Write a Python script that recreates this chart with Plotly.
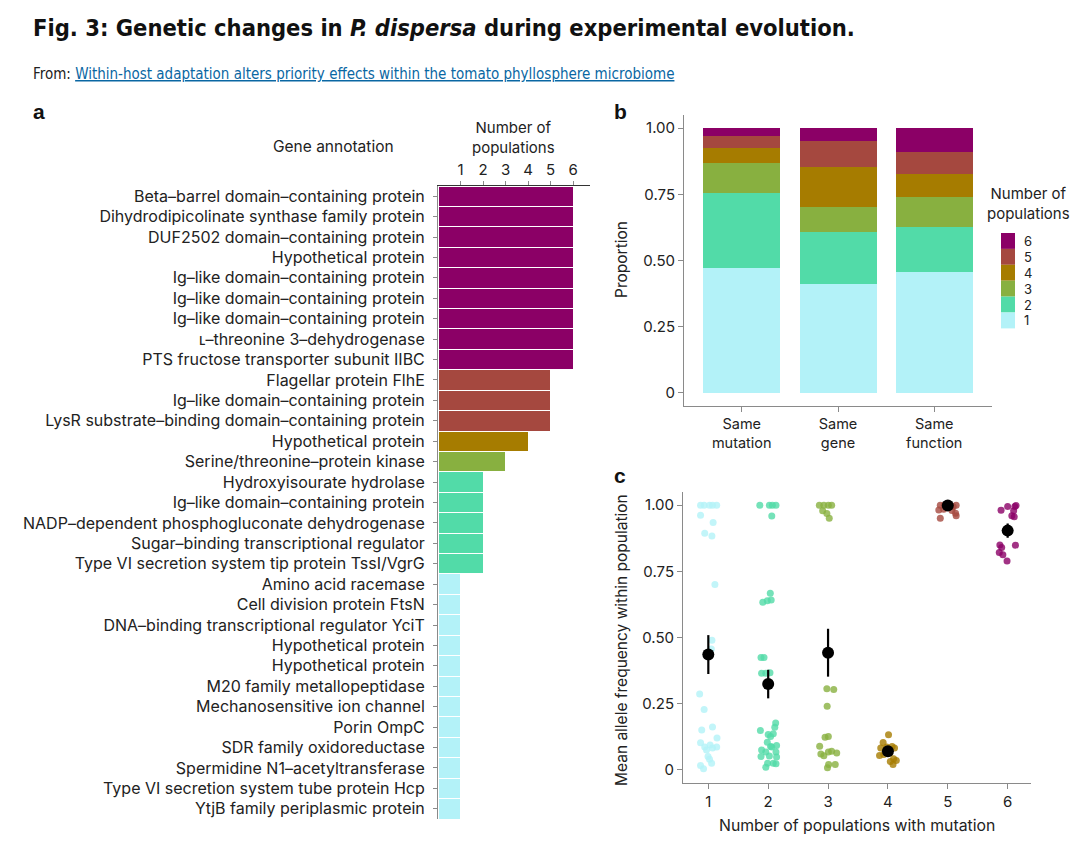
import plotly.graph_objects as go

W, H = 1080, 847
def px(x): return x / W
def py(y): return 1 - y / H

# ---------------- data ----------------
genes = [
    "Beta–barrel domain–containing protein",
    "Dihydrodipicolinate synthase family protein",
    "DUF2502 domain–containing protein",
    "Hypothetical protein",
    "Ig–like domain–containing protein",
    "Ig–like domain–containing protein",
    "Ig–like domain–containing protein",
    "ʟ–threonine 3–dehydrogenase",
    "PTS fructose transporter subunit IIBC",
    "Flagellar protein FlhE",
    "Ig–like domain–containing protein",
    "LysR substrate–binding domain–containing protein",
    "Hypothetical protein",
    "Serine/threonine–protein kinase",
    "Hydroxyisourate hydrolase",
    "Ig–like domain–containing protein",
    "NADP–dependent phosphogluconate dehydrogenase",
    "Sugar–binding transcriptional regulator",
    "Type VI secretion system tip protein TssI/VgrG",
    "Amino acid racemase",
    "Cell division protein FtsN",
    "DNA–binding transcriptional regulator YciT",
    "Hypothetical protein",
    "Hypothetical protein",
    "M20 family metallopeptidase",
    "Mechanosensitive ion channel",
    "Porin OmpC",
    "SDR family oxidoreductase",
    "Spermidine N1–acetyltransferase",
    "Type VI secretion system tube protein Hcp",
    "YtjB family periplasmic protein",
]
n_pops = [6]*9 + [5]*3 + [4] + [3] + [2]*5 + [1]*12

categories_b = ["Same<br>mutation", "Same<br>gene", "Same<br>function"]
prop = {
    1: [0.470, 0.413, 0.455],
    2: [0.286, 0.195, 0.171],
    3: [0.114, 0.096, 0.115],
    4: [0.056, 0.148, 0.087],
    5: [0.043, 0.098, 0.084],
    6: [0.031, 0.050, 0.088],
}
legend_labels = ["6", "5", "4", "3", "2", "1"]

# panel c: allele frequencies per group, with horizontal jitter offsets
freq = {
    1: [1.0, 1.0, 1.0, 1.0, 1.0, 0.962, 0.935, 0.894, 0.884, 0.70, 0.49, 0.457,
        0.286, 0.228, 0.15, 0.162, 0.102, 0.12, 0.086, 0.086, 0.094, 0.082, 0.075,
        0.05, 0.04, 0.025, 0.016, 0.004],
    2: [1.0, 1.0, 1.0, 1.0, 0.959, 0.667, 0.633, 0.639, 0.642, 0.424, 0.424, 0.365,
        0.365, 0.367, 0.148, 0.177, 0.161, 0.136, 0.133, 0.126, 0.104, 0.075, 0.092,
        0.086, 0.067, 0.067, 0.052, 0.05, 0.048, 0.025, 0.025, 0.023, 0.01, 0.088],
    3: [1.0, 1.0, 1.0, 1.0, 0.979, 0.969, 0.951, 0.306, 0.303, 0.24, 0.123, 0.126,
        0.089, 0.06, 0.053, 0.07, 0.063, 0.067, 0.02, 0.02, 0.008],
    4: [0.132, 0.103, 0.082, 0.086, 0.088, 0.082, 0.054, 0.058, 0.042, 0.031, 0.02,
        0.035, 0.063],
    5: [1.0, 1.0, 1.0, 1.0, 0.982, 0.985, 0.98, 0.97, 0.96, 0.951, 0.994],
    6: [0.981, 0.995, 0.995, 0.999, 0.979, 0.96, 0.956, 0.85, 0.84, 0.849, 0.821,
        0.813, 0.789],
}
jitter = {
    1: [-0.13, -0.07, 0.02, 0.07, 0.14, -0.13, 0.08, -0.06, 0.06, 0.11, 0.06, 0.05,
        -0.145, -0.07, -0.11, 0.07, -0.13, 0.145, 0.14, -0.06, 0.03, 0.07, -0.03,
        -0.005, 0.02, 0.055, -0.13, -0.08],
    2: [-0.14, 0.02, 0.07, 0.13, 0.06, 0.035, -0.09, -0.015, 0.05, -0.12, -0.07, -0.11,
        -0.04, 0.03, -0.13, 0.125, 0.11, 0.085, 0.0, 0.04, -0.015, -0.11, 0.14,
        0.06, 0.13, -0.04, 0.02, -0.12, 0.14, -0.01, 0.085, 0.13, -0.04, 0.04],
    3: [-0.145, -0.07, 0.005, 0.06, -0.09, -0.02, 0.02, -0.02, 0.095, -0.015, -0.05,
        0.005, -0.14, -0.12, -0.07, 0.06, 0.145, 0.005, 0.01, 0.12, -0.01],
    4: [0.01, -0.08, -0.12, -0.02, 0.07, 0.11, -0.14, -0.07, 0.095, 0.04, 0.085,
        0.14, 0.03],
    5: [-0.125, -0.06, 0.04, 0.14, -0.15, -0.07, 0.07, 0.13, 0.14, -0.125, 0.09],
    6: [-0.11, 0.0, 0.12, 0.14, 0.1, 0.07, 0.11, -0.13, -0.1, 0.13, -0.14, -0.08,
        -0.01],
}
mean_freq = {1: 0.436, 2: 0.324, 3: 0.442, 4: 0.070, 5: 0.999, 6: 0.904}
se_upper = {1: 0.509, 2: 0.378, 3: 0.533, 4: 0.078, 5: 1.0, 6: 0.931}
se_lower = {1: 0.362, 2: 0.270, 3: 0.352, 4: 0.062, 5: 0.998, 6: 0.877}

colors = {6: "#8B0066", 5: "#A5483F", 4: "#A67C00", 3: "#88B040", 2: "#52DBA8", 1: "#B3F2F8"}

FONT = "Inter, Roboto, Arial, sans-serif"
TXT = "#222222"
AX_DARK = "#333333"
AX = "#8a8a8a"

fig = go.Figure()

# ---------------- panel a ----------------
fig.add_trace(go.Bar(
    x=n_pops, y=list(range(len(genes))), orientation="h",
    marker=dict(color=[colors[n] for n in n_pops], line=dict(color="white", width=1)),
    width=1.0, xaxis="x", yaxis="y", showlegend=False, hoverinfo="x+text",
    hovertext=genes,
))

# ---------------- panel b ----------------
for k in range(1, 7):
    fig.add_trace(go.Bar(
        x=[0, 1, 2], y=prop[k], name=str(k), marker=dict(color=colors[k], line=dict(width=0)),
        width=0.8, xaxis="x2", yaxis="y2", showlegend=False,
    ))

# ---------------- panel c ----------------
for k in range(1, 7):
    fig.add_trace(go.Scatter(
        x=[k + j for j in jitter[k]], y=freq[k], mode="markers",
        marker=dict(color=colors[k], size=7, opacity=0.8),
        xaxis="x3", yaxis="y3", showlegend=False,
    ))
groups = list(range(1, 7))
fig.add_trace(go.Scatter(
    x=groups, y=[mean_freq[g] for g in groups], mode="markers",
    marker=dict(color="black", size=12),
    error_y=dict(type="data", symmetric=False,
                 array=[se_upper[g] - mean_freq[g] for g in groups],
                 arrayminus=[mean_freq[g] - se_lower[g] for g in groups],
                 thickness=2.2, width=0, color="black"),
    xaxis="x3", yaxis="y3", showlegend=False,
))

def axis(color=AX, size=15, **kw):
    d = dict(showline=True, linecolor=color, linewidth=1, ticks="outside", tickcolor=AX,
             ticklen=4, tickwidth=1, showgrid=False, zeroline=False,
             tickfont=dict(family=FONT, size=size, color=TXT))
    d.update(kw)
    return d

fig.update_layout(
    width=W, height=H, margin=dict(l=0, r=0, t=0, b=0),
    paper_bgcolor="white", plot_bgcolor="white",
    barmode="stack", font=dict(family=FONT, color=TXT), showlegend=False,
    xaxis=axis(AX_DARK, domain=[px(438), px(590)], range=[0, 6.75], side="top",
               tickvals=[1, 2, 3, 4, 5, 6], anchor="y"),
    yaxis=axis(size=16, domain=[py(819), py(186)], range=[30.5, -0.5],
               tickvals=list(range(len(genes))), ticktext=genes, anchor="x", ticklabelstandoff=5),
    xaxis2=axis(size=14.5, domain=[px(684), px(992)], range=[-0.6, 2.6], tickvals=[0, 1, 2],
                ticktext=categories_b, anchor="y2", ticklen=5),
    yaxis2=axis(domain=[py(406), py(115)], range=[-0.05, 1.05], tickvals=[0, 0.25, 0.5, 0.75, 1.0],
                ticktext=["0", "0.25", "0.50", "0.75", "1.00"], anchor="x2", ticklen=5),
    xaxis3=axis(domain=[px(683), px(1031)], range=[0.577, 6.39], tickvals=[1, 2, 3, 4, 5, 6],
                anchor="y3", ticklen=5),
    yaxis3=axis(domain=[py(783), py(492)], range=[-0.05, 1.05], tickvals=[0, 0.25, 0.5, 0.75, 1.0],
                ticktext=["0", "0.25", "0.50", "0.75", "1.00"], anchor="x3", ticklen=5),
)

# legend for panel b (squares + labels built from the colour map)
shapes = []
ann = []
leg_top, leg_h, leg_x0, leg_w = 233, 15.9, 1001, 14
for i, lab in enumerate(legend_labels):
    y0 = leg_top + i * leg_h
    shapes.append(dict(type="rect", xref="paper", yref="paper", x0=px(leg_x0), x1=px(leg_x0 + leg_w),
                       y0=py(y0), y1=py(y0 + leg_h), fillcolor=colors[int(lab)], line=dict(width=0)))
    ann.append(dict(text=lab, x=px(leg_x0 + leg_w + 7), y=py(y0 + leg_h / 2), xanchor="left",
                    yanchor="middle", font=dict(family=FONT, size=13, color=TXT)))
ann.append(dict(text="Number of<br>populations", x=px(1028), y=py(204), xanchor="center",
                yanchor="middle", font=dict(family=FONT, size=15, color=TXT)))

TITLEFONT = "DejaVu Sans Condensed, DejaVu Sans, sans-serif"
ann += [
    dict(text="<b>Fig. 3: Genetic changes in <i>P. dispersa</i> during experimental evolution.</b>",
         x=px(31), y=py(28), xanchor="left", yanchor="middle",
         font=dict(family=TITLEFONT, size=23.5, color="#111111")),
    dict(text="From: <span style='color:#0A67A3'><u>Within-host adaptation alters priority effects within the tomato phyllosphere microbiome</u></span>",
         x=px(31), y=py(74), xanchor="left", yanchor="middle",
         font=dict(family=TITLEFONT, size=15, color="#222222")),
    dict(text="<b>a</b>", x=px(31), y=py(111), xanchor="left", yanchor="middle",
         font=dict(family="Liberation Sans, Arial, sans-serif", size=21, color="#111111")),
    dict(text="<b>b</b>", x=px(612), y=py(111), xanchor="left", yanchor="middle",
         font=dict(family="Liberation Sans, Arial, sans-serif", size=21, color="#111111")),
    dict(text="<b>c</b>", x=px(612), y=py(475), xanchor="left", yanchor="middle",
         font=dict(family="Liberation Sans, Arial, sans-serif", size=21, color="#111111")),
    dict(text="Gene annotation", x=px(333), y=py(146), xanchor="center", yanchor="middle",
         font=dict(family=FONT, size=15.5, color=TXT)),
    dict(text="Number of<br>populations", x=px(513), y=py(138), xanchor="center", yanchor="middle",
         font=dict(family=FONT, size=15, color=TXT)),
    dict(text="Proportion", x=px(622), y=py(260), xanchor="center", yanchor="middle", textangle=-90,
         font=dict(family=FONT, size=15.5, color=TXT)),
    dict(text="Mean allele frequency within population", x=px(621), y=py(640), xanchor="center",
         yanchor="middle", textangle=-90, font=dict(family=FONT, size=15.5, color=TXT)),
    dict(text="Number of populations with mutation", x=px(857), y=py(825), xanchor="center",
         yanchor="middle", font=dict(family=FONT, size=15.8, color=TXT)),
]
for a in ann:
    a.update(xref="paper", yref="paper", showarrow=False)
fig.update_layout(annotations=ann, shapes=shapes)

fig.write_html("out.html")
